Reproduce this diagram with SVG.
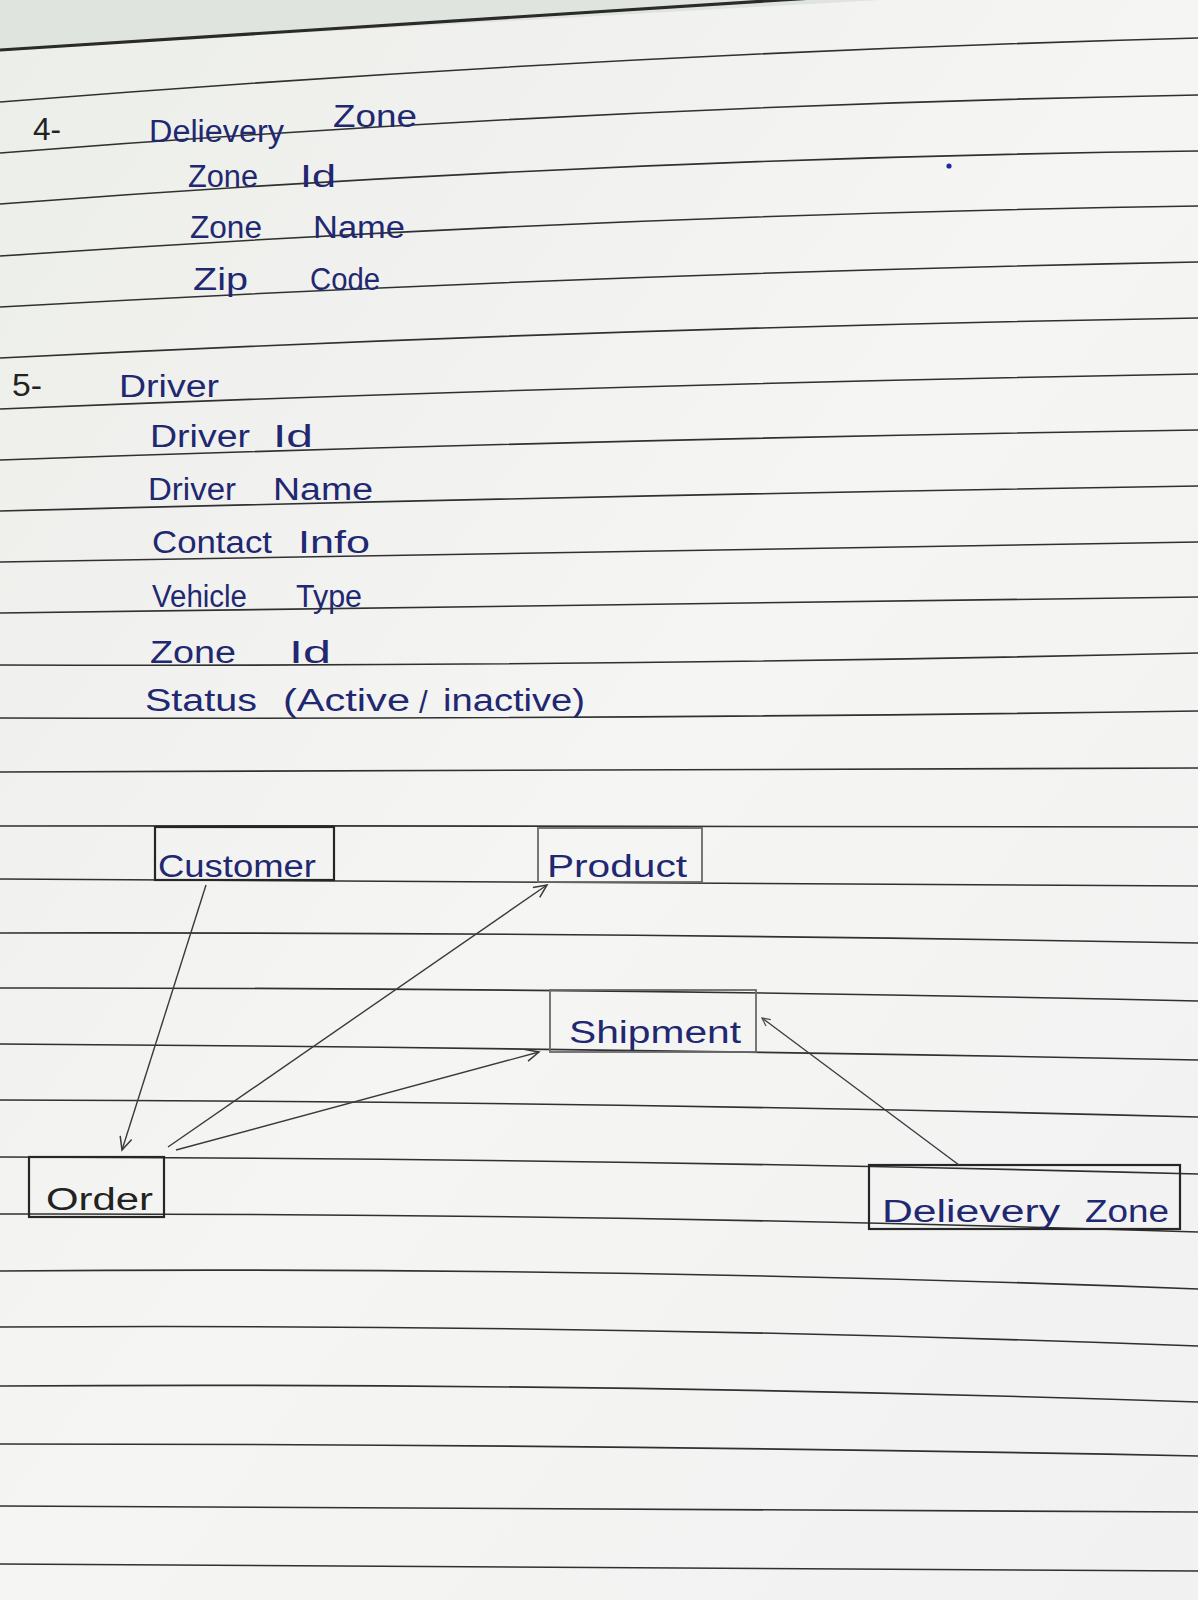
<svg xmlns="http://www.w3.org/2000/svg" width="1198" height="1600" viewBox="0 0 1198 1600">
<style>
.rule{fill:none;stroke:#303030;stroke-width:1.6}
text{font-family:"Liberation Sans","DejaVu Sans",sans-serif}
.ink{fill:#1f2870;font-size:31px}
.pen{fill:#222;font-size:31px}
.box{fill:none;stroke:#262626;stroke-width:2.2}
.boxl{fill:none;stroke:#6a6a6a;stroke-width:1.8}
.conn{fill:none;stroke:#3a3a3a;stroke-width:1.4}
</style>
<defs>
<linearGradient id="paper" x1="0" y1="0" x2="1" y2="1">
<stop offset="0" stop-color="#eceee9"/>
<stop offset="0.5" stop-color="#f5f5f4"/>
<stop offset="1" stop-color="#f1f1f1"/>
</linearGradient>
<marker id="arr" markerUnits="userSpaceOnUse" markerWidth="16" markerHeight="16" refX="14" refY="7" orient="auto" viewBox="0 0 16 14">
<path d="M1,1 L14,7 L1,13" fill="none" stroke="#3a3a3a" stroke-width="1.5"/>
</marker>
<marker id="arrs" markerUnits="userSpaceOnUse" markerWidth="10" markerHeight="10" refX="9" refY="5" orient="auto" viewBox="0 0 10 10">
<path d="M1,1 L9,5 L1,9" fill="none" stroke="#555" stroke-width="1.3"/>
</marker>
</defs>
<rect width="1198" height="1600" fill="url(#paper)"/>
<polygon points="0,0 880,0 0,50" fill="#dfe5de"/>
<g id="rules">
<path d="M0,50 L860,-5" fill="none" stroke="#2a2a2a" stroke-width="3.2"/>
<path class="rule" d="M0,102 Q599,54 1198,38"/>
<path class="rule" d="M0,153 Q599,106 1198,95"/>
<path class="rule" d="M0,204 Q599,158.5 1198,151"/>
<path class="rule" d="M0,256 Q599,215 1198,206"/>
<path class="rule" d="M0,307 Q599,273.5 1198,262"/>
<path class="rule" d="M0,358 Q599,328 1198,318"/>
<path class="rule" d="M0,409 Q599,384.5 1198,374"/>
<path class="rule" d="M0,460 Q599,439 1198,430"/>
<path class="rule" d="M0,511 Q599,495.5 1198,486"/>
<path class="rule" d="M0,562 Q599,552 1198,542"/>
<path class="rule" d="M0,613 Q599,603 1198,597"/>
<path class="rule" d="M0,665 Q599,667 1198,653"/>
<path class="rule" d="M0,718 Q599,719.5 1198,711"/>
<path class="rule" d="M0,772 Q599,772 1198,768"/>
<path class="rule" d="M0,826 Q599,825.5 1198,827"/>
<path class="rule" d="M0,879 Q599,881.5 1198,886"/>
<path class="rule" d="M0,933 Q599,932 1198,943"/>
<path class="rule" d="M0,988 Q599,987.5 1198,1001"/>
<path class="rule" d="M0,1044 Q599,1048 1198,1060"/>
<path class="rule" d="M0,1100 Q599,1101.5 1198,1117"/>
<path class="rule" d="M0,1157 Q599,1158.5 1198,1174"/>
<path class="rule" d="M0,1214 Q599,1213 1198,1232"/>
<path class="rule" d="M0,1271 Q599,1266 1198,1289"/>
<path class="rule" d="M0,1327 Q599,1323.5 1198,1346"/>
<path class="rule" d="M0,1386 Q599,1382 1198,1402"/>
<path class="rule" d="M0,1444 Q599,1444 1198,1456"/>
<path class="rule" d="M0,1506 Q599,1507 1198,1512"/>
<path class="rule" d="M0,1564 Q599,1566.5 1198,1571"/>
</g>
<circle cx="949" cy="166" r="2.6" fill="#1f2aa0"/>
<g id="notes-delivery-zone">
<text class="pen" x="33" y="140" font-size="22" textLength="28" lengthAdjust="spacingAndGlyphs">4-</text>
<text class="ink" x="149" y="142" font-size="32" textLength="135" lengthAdjust="spacingAndGlyphs">Delievery</text>
<text class="ink" x="333" y="127" font-size="32" textLength="84" lengthAdjust="spacingAndGlyphs">Zone</text>
<g id="row-zone-id"><text class="ink" x="188" y="187" textLength="70" lengthAdjust="spacingAndGlyphs">Zone</text><text class="ink" x="300" y="187" font-size="34" textLength="36" lengthAdjust="spacingAndGlyphs">Id</text></g>
<g id="row-zone-name"><text class="ink" x="190" y="238" textLength="72" lengthAdjust="spacingAndGlyphs">Zone</text><text class="ink" x="313" y="238" textLength="92" lengthAdjust="spacingAndGlyphs">Name</text></g>
<g id="row-zip-code"><text class="ink" x="193" y="290" textLength="55" lengthAdjust="spacingAndGlyphs">Zip</text><text class="ink" x="310" y="290" textLength="70" lengthAdjust="spacingAndGlyphs">Code</text></g>
</g>
<g id="notes-driver">
<text class="pen" x="12" y="396" font-size="22" textLength="30" lengthAdjust="spacingAndGlyphs">5-</text>
<text class="ink" x="119" y="397" font-size="33" textLength="100" lengthAdjust="spacingAndGlyphs">Driver</text>
<g id="row-driver-id"><text class="ink" x="150" y="447" textLength="100" lengthAdjust="spacingAndGlyphs">Driver</text><text class="ink" x="273" y="447" font-size="34" textLength="40" lengthAdjust="spacingAndGlyphs">Id</text></g>
<g id="row-driver-name"><text class="ink" x="148" y="500" textLength="88" lengthAdjust="spacingAndGlyphs">Driver</text><text class="ink" x="273" y="500" textLength="100" lengthAdjust="spacingAndGlyphs">Name</text></g>
<g id="row-contact-info"><text class="ink" x="152" y="553" textLength="120" lengthAdjust="spacingAndGlyphs">Contact</text><text class="ink" x="298" y="553" font-size="33" textLength="72" lengthAdjust="spacingAndGlyphs">Info</text></g>
<g id="row-vehicle-type"><text class="ink" x="152" y="607" textLength="95" lengthAdjust="spacingAndGlyphs">Vehicle</text><text class="ink" x="296" y="607" textLength="66" lengthAdjust="spacingAndGlyphs">Type</text></g>
<g id="row-zone-id-2"><text class="ink" x="150" y="663" textLength="86" lengthAdjust="spacingAndGlyphs">Zone</text><text class="ink" x="289" y="663" font-size="34" textLength="42" lengthAdjust="spacingAndGlyphs">Id</text></g>
<g id="row-status"><text class="ink" x="145" y="711" font-size="32" textLength="112" lengthAdjust="spacingAndGlyphs">Status</text><text class="ink" x="283" y="711" font-size="32" textLength="127" lengthAdjust="spacingAndGlyphs">(Active</text><text class="ink" x="419" y="713" font-size="34">/</text><text class="ink" x="443" y="711" font-size="32" textLength="142" lengthAdjust="spacingAndGlyphs">inactive)</text></g>
</g>
<g id="node-customer">
<rect class="box" x="155" y="827" width="179" height="53"/>
<text class="ink" x="158" y="877" font-size="34" textLength="158" lengthAdjust="spacingAndGlyphs" fill="#1d2150">Customer</text>
</g>
<g id="node-product">
<rect class="boxl" x="538" y="828" width="164" height="54"/>
<text class="ink" x="547" y="877" font-size="38" textLength="140" lengthAdjust="spacingAndGlyphs">Product</text>
</g>
<g id="node-shipment">
<rect class="boxl" x="550" y="990" width="206" height="62"/>
<text class="ink" x="569" y="1043" font-size="40" textLength="172" lengthAdjust="spacingAndGlyphs">Shipment</text>
</g>
<g id="node-order">
<rect class="box" x="29" y="1157" width="135" height="60"/>
<text class="pen" x="46" y="1210" font-size="40" textLength="107" lengthAdjust="spacingAndGlyphs">Order</text>
</g>
<g id="node-delivery-zone">
<rect class="box" x="869" y="1165" width="311" height="64"/>
<text class="ink" x="882" y="1222" font-size="40" textLength="178" lengthAdjust="spacingAndGlyphs">Delievery</text>
<text class="ink" x="1085" y="1222" font-size="36" textLength="84" lengthAdjust="spacingAndGlyphs">Zone</text>
</g>
<g id="connectors">
<path class="conn" d="M206,885 L122,1150" marker-end="url(#arr)"/>
<path class="conn" d="M168,1147 L547,885" marker-end="url(#arr)"/>
<path class="conn" d="M176,1150 L539,1052" marker-end="url(#arr)"/>
<path class="conn" d="M959,1165 L762,1018" marker-end="url(#arrs)"/>
</g>
</svg>
